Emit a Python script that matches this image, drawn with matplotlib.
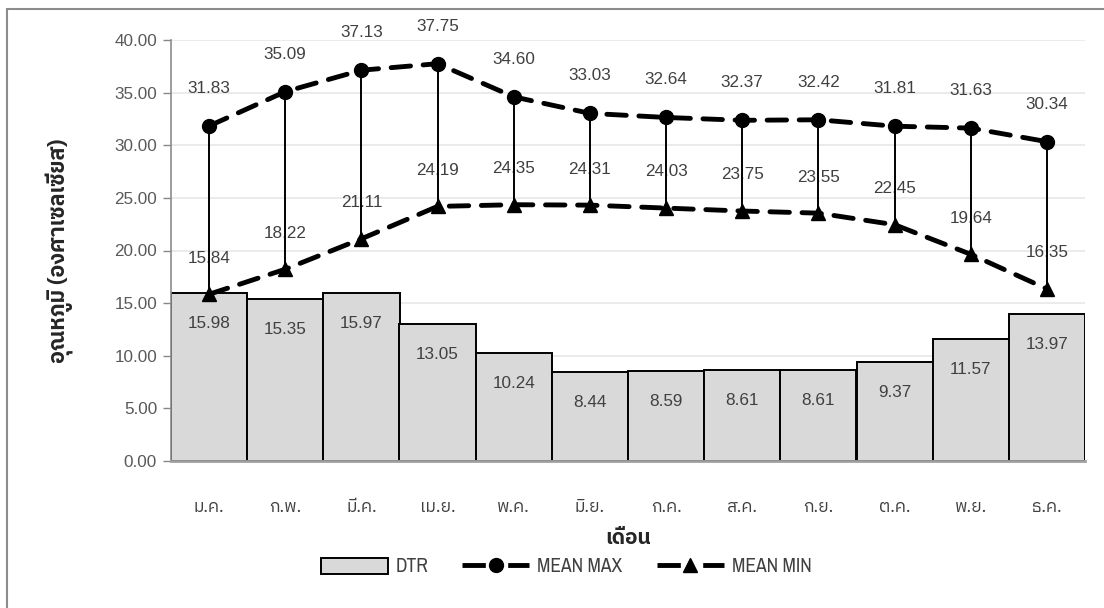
import matplotlib
matplotlib.use("Agg")
import matplotlib.pyplot as plt
import numpy as np
from matplotlib.patches import Rectangle
from matplotlib.lines import Line2D

months = ["ม.ค.", "ก.พ.", "มี.ค.", "เม.ย.", "พ.ค.", "มิ.ย.",
          "ก.ค.", "ส.ค.", "ก.ย.", "ต.ค.", "พ.ย.", "ธ.ค."]
mean_max = [31.83, 35.09, 37.13, 37.75, 34.60, 33.03,
            32.64, 32.37, 32.42, 31.81, 31.63, 30.34]
mean_min = [15.84, 18.22, 21.11, 24.19, 24.35, 24.31,
            24.03, 23.75, 23.55, 22.45, 19.64, 16.35]
dtr = [15.98, 15.35, 15.97, 13.05, 10.24, 8.44,
       8.59, 8.61, 8.61, 9.37, 11.57, 13.97]
yticks = [0, 5, 10, 15, 20, 25, 30, 35, 40]

thai_fam = ["IBM Plex Sans Thai", "Noto Sans Thai", "DejaVu Sans"]
num_fam = ["Liberation Sans", "DejaVu Sans"]
narrow_fam = ["Archivo Narrow", "Liberation Sans Narrow", "Liberation Sans", "DejaVu Sans"]
plt.rcParams["font.family"] = thai_fam

W, H = 1104, 608
fig = plt.figure(figsize=(W / 100, H / 100), dpi=100)
ax = fig.add_axes([171 / W, 1 - 461 / H, (1085 - 171) / W, (461 - 40) / H])

x = np.arange(len(months))
ax.set_xlim(-0.5, len(months) - 0.5)
ax.set_ylim(0, 40)

# DTR bars with value labels just inside the top
ax.bar(x, dtr, width=1.0, color="#d9d9d9", edgecolor="black", linewidth=1.4, zorder=2)
for xi, v in zip(x, dtr):
    ax.annotate(f"{v:.2f}", (xi, v), xytext=(0, -22), textcoords="offset points",
                ha="center", va="center", fontsize=12.3, color="#404040",
                family=num_fam, zorder=2.5)

# High-low connectors between mean max and mean min
ax.vlines(x, mean_min, mean_max, color="black", linewidth=1.4, zorder=4)

# Mean max / mean min dashed lines
line_kw = dict(color="black", linewidth=3.5, dashes=(4, 2.6), dash_capstyle="round",
               markersize=10, zorder=5)
ax.plot(x, mean_max, marker="o", **line_kw)
ax.plot(x, mean_min, marker="^", **line_kw)

for series, dy in ((mean_max, 27), (mean_min, 26)):
    for xi, v in zip(x, series):
        ax.annotate(f"{v:.2f}", (xi, v), xytext=(0, dy), textcoords="offset points",
                    ha="center", va="center", fontsize=12.3, color="#404040",
                    family=num_fam, zorder=3)

# Axes styling
ax.set_yticks(yticks)
ax.set_yticklabels([f"{t:.2f}" for t in yticks], family=num_fam)
ax.yaxis.grid(True, color="#e8e8e8", linewidth=1.2, zorder=0)
ax.set_axisbelow(True)
ax.tick_params(axis="y", length=6, width=1, color="#888888", labelsize=12.3,
               labelcolor="#595959", pad=4)
ax.set_xticks(x)
ax.set_xticklabels(months)
ax.tick_params(axis="x", length=0, labelsize=12.5, labelcolor="#404040", pad=27)
for s in ["top", "right"]:
    ax.spines[s].set_visible(False)
ax.spines["left"].set_color("#8c8c8c")
ax.spines["left"].set_linewidth(1.2)
ax.spines["bottom"].set_color("#a0a0a0")
ax.spines["bottom"].set_linewidth(2.0)

xl = ax.set_xlabel("เดือน", fontsize=15, fontweight="bold", color="#262626")
ax.xaxis.set_label_coords(0.5, -(538 - 461) / (461 - 40))
xl.set_va("center")
yl = ax.set_ylabel("อุณหภูมิ (องศาเซลเซียส)", fontsize=15.5, fontweight="bold",
                   color="#262626")
ax.yaxis.set_label_coords(-(171 - 60) / (1085 - 171), 0.5)
yl.set_va("center")

# Legend
leg_size = 14
px = 72 / 100 / leg_size  # one pixel in legend font-size units
handles = [
    Rectangle((0, 0), 1, 1, facecolor="#d9d9d9", edgecolor="black", linewidth=1.4),
    Line2D([], [], color="black", linewidth=3.5, dashes=(4.8, 4.6), marker="o", markersize=10),
    Line2D([], [], color="black", linewidth=3.5, dashes=(4.8, 4.6), marker="^", markersize=10),
]
leg = fig.legend(handles, ["DTR", "MEAN MAX", "MEAN MIN"], loc="center",
                 bbox_to_anchor=(566 / W, 1 - 567 / H), ncol=3, frameon=False,
                 handlelength=67 * px, handleheight=0.85,
                 columnspacing=34 * px, handletextpad=8 * px,
                 prop={"family": narrow_fam, "size": leg_size})
for t in leg.get_texts():
    t.set_color("#404040")

# Outer chart frame
fig.patches.append(Rectangle((7 / W, -0.1), 1.2, 1 - 9 / H + 0.1,
                             transform=fig.transFigure, fill=False,
                             edgecolor="#8c8c8c", linewidth=1.5))

fig.savefig("out.png", dpi=100)
